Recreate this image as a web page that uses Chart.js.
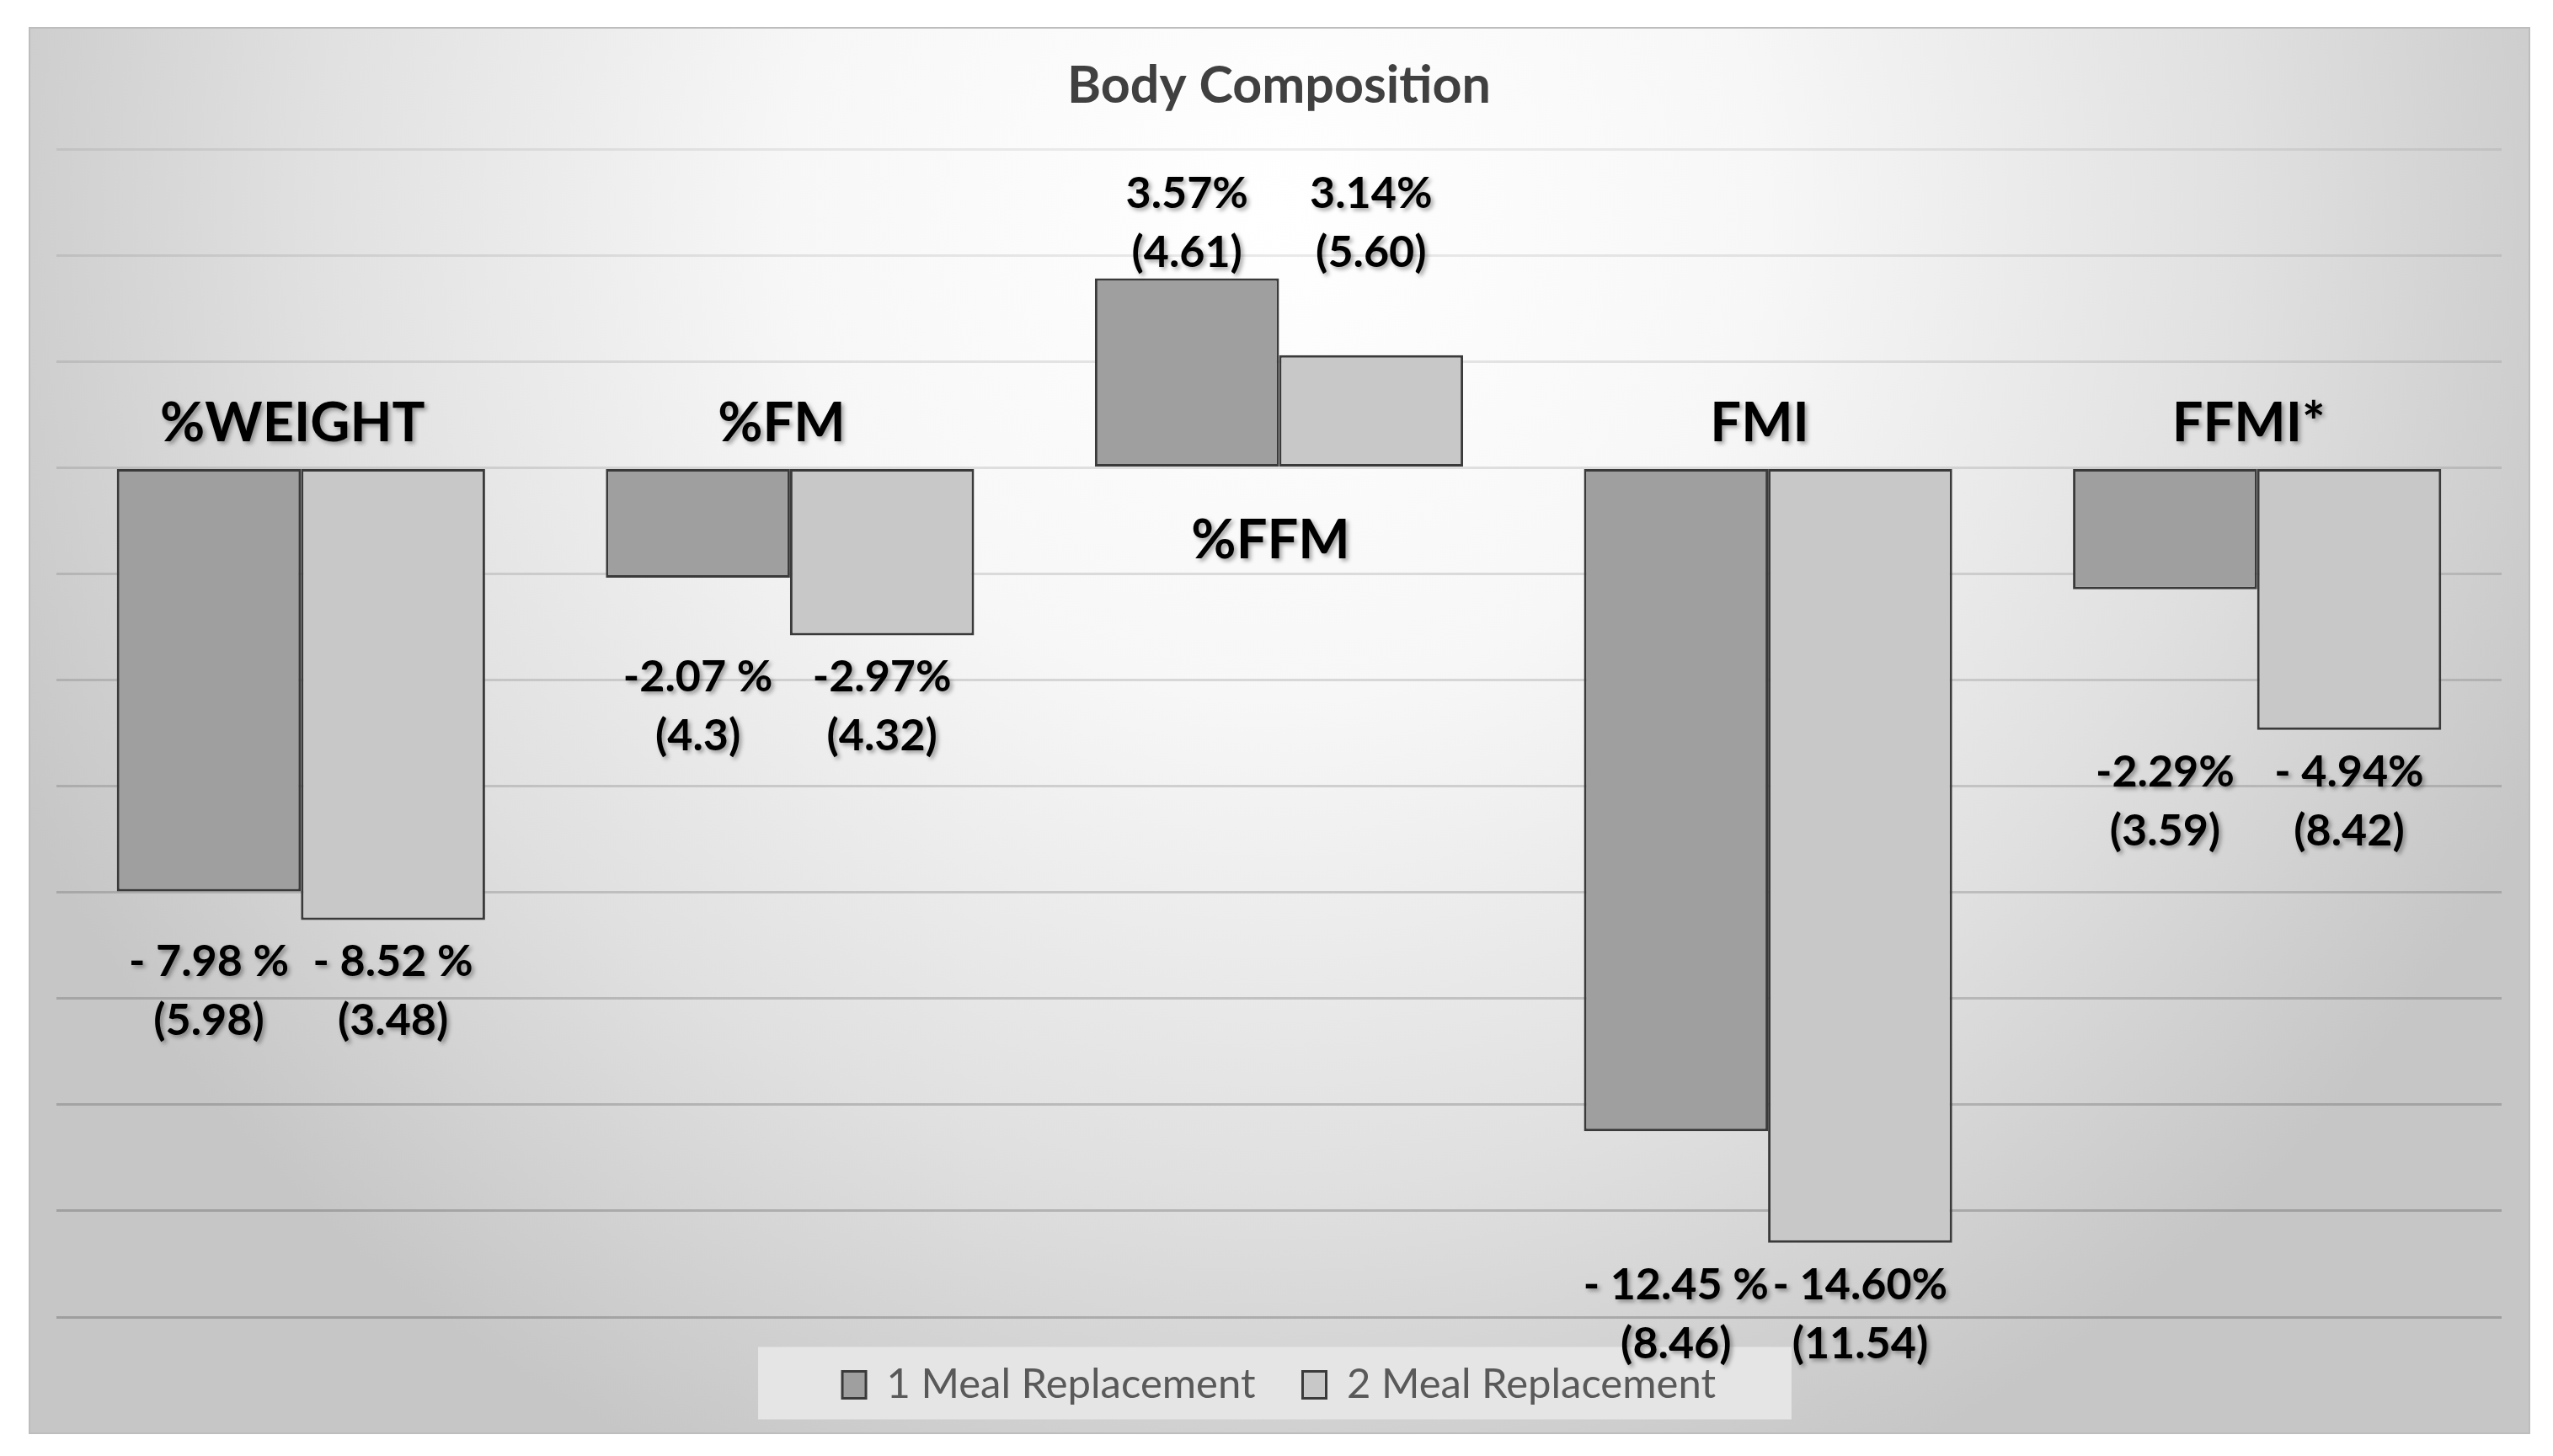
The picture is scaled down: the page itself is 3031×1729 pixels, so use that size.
<!DOCTYPE html>
<html>
<head>
<meta charset="utf-8">
<title>Body Composition</title>
<script src="https://cdn.jsdelivr.net/npm/chart.js@4.4.1/dist/chart.umd.min.js"></script>
<style>
  html, body { margin: 0; padding: 0; background: #ffffff; }
  .container { width: 3031px; height: 1729px; position: relative; }
</style>
</head>
<body>
<div class="container"><canvas id="myChart"></canvas></div>
<script>
const categories = ["%WEIGHT", "%FM", "%FFM", "FMI", "FFMI*"];
const seriesNames = ["1 Meal Replacement", "2 Meal Replacement"];
// bar heights
const oneMeal = [-7.98, -2.07, 3.57, -12.5, -2.29];
const twoMeal = [-8.52, -3.16, 2.12, -14.6, -4.94];
// printed text: mean change and (SD)
const oneMealMean = ["- 7.98 %", "-2.07 %", "3.57%", "- 12.45 %", "-2.29%"];
const twoMealMean = ["- 8.52 %", "-2.97%", "3.14%", "- 14.60%", "- 4.94%"];
const oneMealSD = ["(5.98)", "(4.3)", "(4.61)", "(8.46)", "(3.59)"];
const twoMealSD = ["(3.48)", "(4.32)", "(5.60)", "(11.54)", "(8.42)"];
const yMin = -16;
const yMax = 6;
const yStep = 2;

// grey gradient panel behind everything, plus the lighter strip under the legend
const framePanel = {
  id: "framePanel",
  beforeDraw(chart) {
    const { ctx, width, height } = chart;
    const x0 = 35, y0 = 33, x1 = width - 28, y1 = height - 27;
    ctx.save();
    ctx.fillStyle = "#ffffff";
    ctx.fillRect(0, 0, width, height);
    const g = ctx.createRadialGradient(width / 2, 250, 0, width / 2, 250, 1650);
    g.addColorStop(0, "#ffffff");
    g.addColorStop(0.35, "#f7f7f7");
    g.addColorStop(0.7, "#e0e0e0");
    g.addColorStop(1, "#c6c6c6");
    ctx.fillStyle = g;
    ctx.fillRect(x0, y0, x1 - x0, y1 - y0);
    ctx.strokeStyle = "#bdbdbd";
    ctx.lineWidth = 2;
    ctx.strokeRect(x0, y0, x1 - x0, y1 - y0);

    const boxes = chart.legend.legendHitBoxes;
    if (boxes && boxes.length) {
      const first = boxes[0];
      const last = boxes[boxes.length - 1];
      const mid = first.top + first.height / 2;
      const left = first.left - 100;
      ctx.fillStyle = "#e5e5e5";
      ctx.fillRect(left, mid - 45, last.left + last.width + 90 - left, 86);
    }
    ctx.restore();
  },
};

// category names and the two-line value text next to each bar group
const barText = {
  id: "barText",
  afterDatasetsDraw(chart) {
    const { ctx } = chart;
    const zero = chart.scales.y.getPixelForValue(0);
    const bars0 = chart.getDatasetMeta(0).data;
    const bars1 = chart.getDatasetMeta(1).data;
    ctx.save();
    ctx.textAlign = "center";
    ctx.textBaseline = "middle";
    ctx.fillStyle = "#000000";
    ctx.shadowColor = "rgba(0,0,0,0.35)";
    ctx.shadowBlur = 5;
    ctx.shadowOffsetX = 3;
    ctx.shadowOffsetY = 3;
    categories.forEach((name, i) => {
      const a = bars0[i];
      const b = bars1[i];
      const up = oneMeal[i] > 0;
      ctx.font = "bold 65px Lato";
      ctx.fillText(name, (a.x + b.x) / 2 - 10, up ? zero + 87 : zero - 52);

      ctx.font = "bold 52px Lato";
      const line1 = up ? Math.min(a.y, b.y) - 100 : Math.max(a.y, b.y) + 50;
      [[a, oneMealMean, oneMealSD], [b, twoMealMean, twoMealSD]].forEach(([bar, mean, sd]) => {
        ctx.fillText(mean[i], bar.x, line1);
        ctx.fillText(sd[i], bar.x, line1 + 70);
      });
    });
    ctx.restore();
  },
};

new Chart(document.getElementById("myChart"), {
  type: "bar",
  data: {
    labels: categories,
    datasets: [
      {
        label: seriesNames[0],
        data: oneMeal,
        backgroundColor: "#9f9f9f",
        borderColor: "#3a3a3a",
        borderWidth: 3,
        borderSkipped: false,
      },
      {
        label: seriesNames[1],
        data: twoMeal,
        backgroundColor: "#c8c8c8",
        borderColor: "#3a3a3a",
        borderWidth: 3,
        borderSkipped: false,
      },
    ],
  },
  options: {
    responsive: true,
    maintainAspectRatio: false,
    animation: false,
    datasets: {
      bar: { categoryPercentage: 0.753, barPercentage: 1 },
    },
    layout: { padding: { top: 43, left: 67, right: 61, bottom: 50 } },
    scales: {
      x: { display: false },
      y: {
        min: yMin,
        max: yMax,
        ticks: { stepSize: yStep, display: false },
        border: { display: false },
        grid: {
          drawTicks: false,
          lineWidth: 3,
          color: (c) => {
            const v = c.tick ? c.tick.value : 0;
            const t = (v - yMin) / (yMax - yMin);
            return "rgba(0,0,0," + (0.2 - 0.13 * t).toFixed(3) + ")";
          },
        },
      },
    },
    plugins: {
      title: {
        display: true,
        text: "Body Composition",
        color: "#404040",
        font: { family: "Lato", size: 61, weight: "bold" },
        padding: { top: 23, bottom: 38 },
      },
      legend: {
        position: "bottom",
        labels: {
          color: "#595959",
          font: { family: "Lato", size: 49 },
          boxWidth: 28,
          boxHeight: 32,
          padding: 56,
        },
      },
      tooltip: { enabled: false },
    },
  },
  plugins: [framePanel, barText],
});
</script>
</body>
</html>
